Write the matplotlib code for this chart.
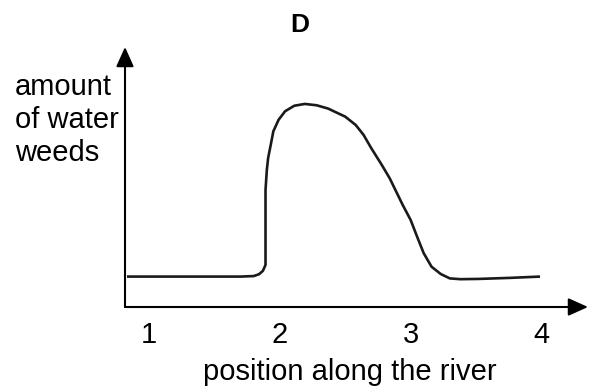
import matplotlib.pyplot as plt

FIG_W = 597
FIG_H = 389

# curve (x in river positions, y in arbitrary amount units)
position = [0.83, 1.70, 1.80, 1.84, 1.87, 1.89, 1.89, 1.89, 1.89, 1.89, 1.90, 1.91, 1.93,
            1.95, 1.99, 2.04, 2.11, 2.19, 2.28, 2.37, 2.42, 2.50, 2.58, 2.64, 2.70, 2.78,
            2.84, 2.94, 3.00, 3.05, 3.10, 3.16, 3.23, 3.30, 3.38, 3.52, 3.76, 3.99]
weeds = [1.17, 1.17, 1.19, 1.26, 1.39, 1.62, 2.07, 2.58, 3.22, 4.50, 5.27, 5.73, 6.24,
         6.76, 7.20, 7.53, 7.74, 7.81, 7.76, 7.63, 7.51, 7.32, 7.00, 6.62, 6.10, 5.46,
         4.95, 3.92, 3.35, 2.70, 2.07, 1.55, 1.27, 1.10, 1.07, 1.08, 1.12, 1.17]

tick_positions = [1, 2, 3, 4]
tick_labels = ['1', '2', '3', '4']
ylabel_lines = ['amount', 'of water', 'weeds']


def fx(px):
    return px / FIG_W


def fy(py):
    return 1 - py / FIG_H


plt.rcParams['font.family'] = ['Liberation Sans', 'DejaVu Sans']

fig = plt.figure(figsize=(FIG_W / 100, FIG_H / 100), dpi=100)
ax = fig.add_axes([fx(125), fy(307), fx(588) - fx(125), fy(47) - fy(307)])

ax.plot(position, weeds, color='#1a1a1a', linewidth=1.9, solid_capstyle='butt',
        solid_joinstyle='round')
ax.set_xlim(0.815, 4.357)
ax.set_ylim(0, 10)

for side in ['top', 'right', 'bottom', 'left']:
    ax.spines[side].set_visible(False)
ax.set_yticks([])
ax.set_xticks(tick_positions)
ax.set_xticklabels(tick_labels, fontsize=21)
ax.tick_params(axis='x', length=0, pad=10)

arrow = dict(arrowstyle='-|>,head_length=0.6,head_width=0.27', color='black',
             linewidth=1.5, shrinkA=0, shrinkB=0, mutation_scale=20)
ax.annotate('', xy=(1, 0), xytext=(0, 0), xycoords='axes fraction', arrowprops=arrow)
ax.annotate('', xy=(0, 1), xytext=(0, 0), xycoords='axes fraction', arrowprops=arrow)

fig.text(fx(300), fy(31.5), 'D', fontsize=19, fontweight='bold', ha='center', va='baseline')
for i, line in enumerate(ylabel_lines):
    fig.text(fx(15), fy(95 + i * 33), line, fontsize=21, ha='left', va='baseline')
fig.text(fx(350), fy(380), 'position along the river', fontsize=21, ha='center', va='baseline')

fig.savefig('out.png', dpi=100)
